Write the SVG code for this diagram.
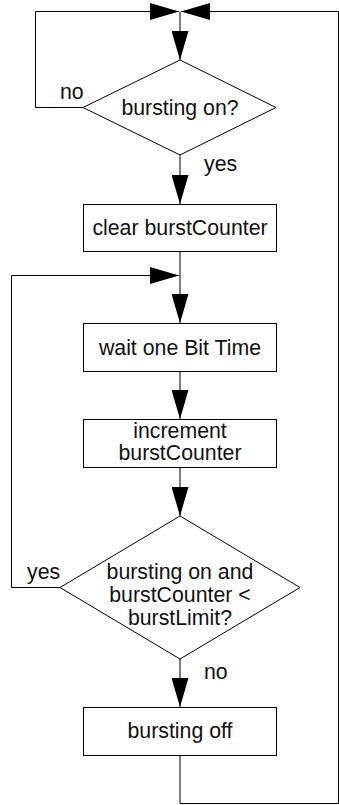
<svg xmlns="http://www.w3.org/2000/svg" width="339" height="805" viewBox="0 0 339 805">
<style>
.ln{fill:none;stroke:#000;stroke-width:1}
.nd{fill:#fff;stroke:#000;stroke-width:1}
.t{font-family:"Liberation Sans",Arial,Helvetica,sans-serif;font-size:21.3px;fill:#111;text-anchor:middle}
.l{font-family:"Liberation Sans",Arial,Helvetica,sans-serif;font-size:21.3px;fill:#111}
</style>
<defs>
<marker id="arr" viewBox="0 0 29 17" refX="29" refY="8.5" markerWidth="29" markerHeight="17" markerUnits="userSpaceOnUse" orient="auto">
<path d="M0,0 L29,8.5 L0,17 Z" fill="#000"/>
</marker>
</defs>
<rect width="339" height="805" fill="#fff"/>
<g id="connectors">
<path class="ln" d="M83,107.5 H35.5 V11.5 H179" marker-end="url(#arr)"/>
<path class="ln" d="M180,756 V803.5 H338.5 V11.5 H181" marker-end="url(#arr)"/>
<path class="ln" d="M180,11.5 V60" marker-end="url(#arr)"/>
<path class="ln" d="M180,155 V204" marker-end="url(#arr)"/>
<path class="ln" d="M180,252 V323" marker-end="url(#arr)"/>
<path class="ln" d="M60,587.5 H11.5 V275.5 H179" marker-end="url(#arr)"/>
<path class="ln" d="M180,372 V419" marker-end="url(#arr)"/>
<path class="ln" d="M180,468 V516" marker-end="url(#arr)"/>
<path class="ln" d="M180,659 V707" marker-end="url(#arr)"/>
<text class="l" x="60" y="99">no</text>
<text class="l" x="204" y="171">yes</text>
<text class="l" x="27" y="579">yes</text>
<text class="l" x="204" y="679">no</text>
</g>
<g id="decision1">
<polygon class="nd" points="180,60 276,107.5 180,155 83,107.5"/>
<text class="t" x="180" y="115">bursting on?</text>
</g>
<g id="clear">
<rect class="nd" x="83.5" y="204.5" width="193" height="47"/>
<text class="t" x="180" y="235">clear burstCounter</text>
</g>
<g id="wait">
<rect class="nd" x="83.5" y="323.5" width="193" height="48"/>
<text class="t" x="180" y="355">wait one Bit Time</text>
</g>
<g id="increment">
<rect class="nd" x="83.5" y="419.5" width="193" height="48"/>
<text class="t" x="180" y="438">increment</text>
<text class="t" x="180" y="460">burstCounter</text>
</g>
<g id="decision2">
<polygon class="nd" points="180,516 300,587.5 180,659 60,587.5"/>
<text class="t" x="180" y="579">bursting on and</text>
<text class="t" x="180" y="602">burstCounter &lt;</text>
<text class="t" x="180" y="625">burstLimit?</text>
</g>
<g id="off">
<rect class="nd" x="83.5" y="707.5" width="193" height="48"/>
<text class="t" x="180" y="738">bursting off</text>
</g>
</svg>
